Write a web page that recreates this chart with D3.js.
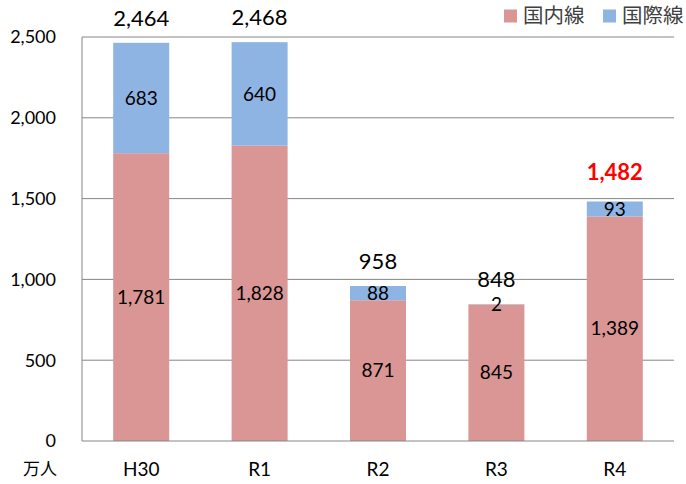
<!DOCTYPE html>
<html>
<head>
<meta charset="utf-8">
<script src="https://cdn.jsdelivr.net/npm/d3@7"></script>
<style>
  body { margin: 0; background: #fff; }
  svg text { font-family: Lato, "Noto Sans CJK JP", sans-serif; }
</style>
</head>
<body>
<div id="chart"></div>
<script>
const categories = ['H30', 'R1', 'R2', 'R3', 'R4']
const domestic = [1781, 1828, 871, 845, 1389]
const international = [683, 640, 88, 2, 93]
const totals = [2464, 2468, 958, 848, 1482]
const yTicks = [0, 500, 1000, 1500, 2000, 2500]
const seriesNames = ['国内線', '国際線']
const colours = ['#d99694', '#8eb4e3']

const width = 686, height = 484
const plotLeft = 82, plotRight = 674, plotTop = 37, plotBottom = 441

const svg = d3.select('#chart').append('svg')
  .attr('width', width)
  .attr('height', height)

const x = d3.scaleBand()
  .domain(categories)
  .range([plotLeft, plotRight])
  .paddingInner(0.527)
  .paddingOuter(0.2635)

const y = d3.scaleLinear()
  .domain([0, 2500])
  .range([plotBottom, plotTop])

const fmt = d3.format(',')

// gridlines
svg.append('g').selectAll('line')
  .data(yTicks.slice(1))
  .enter().append('line')
  .attr('x1', plotLeft).attr('x2', plotRight)
  .attr('y1', d => y(d)).attr('y2', d => y(d))
  .attr('stroke', '#868686').attr('stroke-width', 1)

// y tick labels
svg.append('g').selectAll('text')
  .data(yTicks)
  .enter().append('text')
  .attr('x', 56).attr('y', d => y(d))
  .attr('dy', '0.35em')
  .attr('text-anchor', 'end')
  .attr('font-size', 18)
  .text(d => fmt(d))

const rows = categories.map((c, i) => ({
  cat: c, dom: domestic[i], intl: international[i], total: totals[i], i: i
}))

// domestic bars
svg.append('g').selectAll('rect')
  .data(rows)
  .enter().append('rect')
  .attr('x', d => x(d.cat))
  .attr('width', x.bandwidth())
  .attr('y', d => y(d.dom))
  .attr('height', d => y(0) - y(d.dom))
  .attr('fill', colours[0])

// international bars
svg.append('g').selectAll('rect')
  .data(rows)
  .enter().append('rect')
  .attr('x', d => x(d.cat))
  .attr('width', x.bandwidth())
  .attr('y', d => y(d.dom + d.intl))
  .attr('height', d => y(d.dom) - y(d.dom + d.intl))
  .attr('fill', colours[1])

// axis lines
svg.append('line')
  .attr('x1', plotLeft).attr('x2', plotLeft)
  .attr('y1', plotTop).attr('y2', plotBottom)
  .attr('stroke', '#868686')
svg.append('line')
  .attr('x1', plotLeft).attr('x2', plotRight)
  .attr('y1', plotBottom).attr('y2', plotBottom)
  .attr('stroke', '#868686')

// segment labels
svg.append('g').selectAll('text')
  .data(rows)
  .enter().append('text')
  .attr('x', d => x(d.cat) + x.bandwidth() / 2)
  .attr('y', d => y(d.dom / 2))
  .attr('dy', '0.35em')
  .attr('text-anchor', 'middle')
  .attr('font-size', 19)
  .text(d => fmt(d.dom))

svg.append('g').selectAll('text')
  .data(rows)
  .enter().append('text')
  .attr('x', d => x(d.cat) + x.bandwidth() / 2)
  .attr('y', d => d.intl < 10 ? y(d.dom) : y(d.dom + d.intl / 2))
  .attr('dy', '0.35em')
  .attr('text-anchor', 'middle')
  .attr('font-size', 19)
  .text(d => fmt(d.intl))

// totals
svg.append('g').selectAll('text')
  .data(rows)
  .enter().append('text')
  .attr('x', d => x(d.cat) + x.bandwidth() / 2)
  .attr('y', d => y(d.total) - (d.i == 4 ? 29 : 25))
  .attr('dy', '0.35em')
  .attr('text-anchor', 'middle')
  .attr('font-size', 22)
  .attr('font-weight', d => d.i == 4 ? 'bold' : 'normal')
  .attr('fill', d => d.i == 4 ? '#ff0000' : '#000')
  .text(d => fmt(d.total))

// category labels
svg.append('g').selectAll('text')
  .data(categories)
  .enter().append('text')
  .attr('x', d => x(d) + x.bandwidth() / 2)
  .attr('y', 469)
  .attr('dy', '0.35em')
  .attr('text-anchor', 'middle')
  .attr('font-size', 19)
  .text(d => d)

svg.append('text')
  .attr('x', 40).attr('y', 469)
  .attr('dy', '0.35em')
  .attr('text-anchor', 'middle')
  .attr('font-size', 17)
  .text('万人')

// legend
const legendX = [523, 622]
const legend = svg.append('g').selectAll('g')
  .data(seriesNames)
  .enter().append('g')
  .attr('transform', (d, i) => 'translate(' + legendX[i] + ',16)')
legend.append('rect')
  .attr('x', -19).attr('y', -6.5)
  .attr('width', 13).attr('height', 13)
  .attr('fill', (d, i) => colours[i])
legend.append('text')
  .attr('x', 0).attr('dy', '0.35em')
  .attr('font-size', 20.5)
  .attr('fill', '#404040')
  .text(d => d)
</script>
</body>
</html>
